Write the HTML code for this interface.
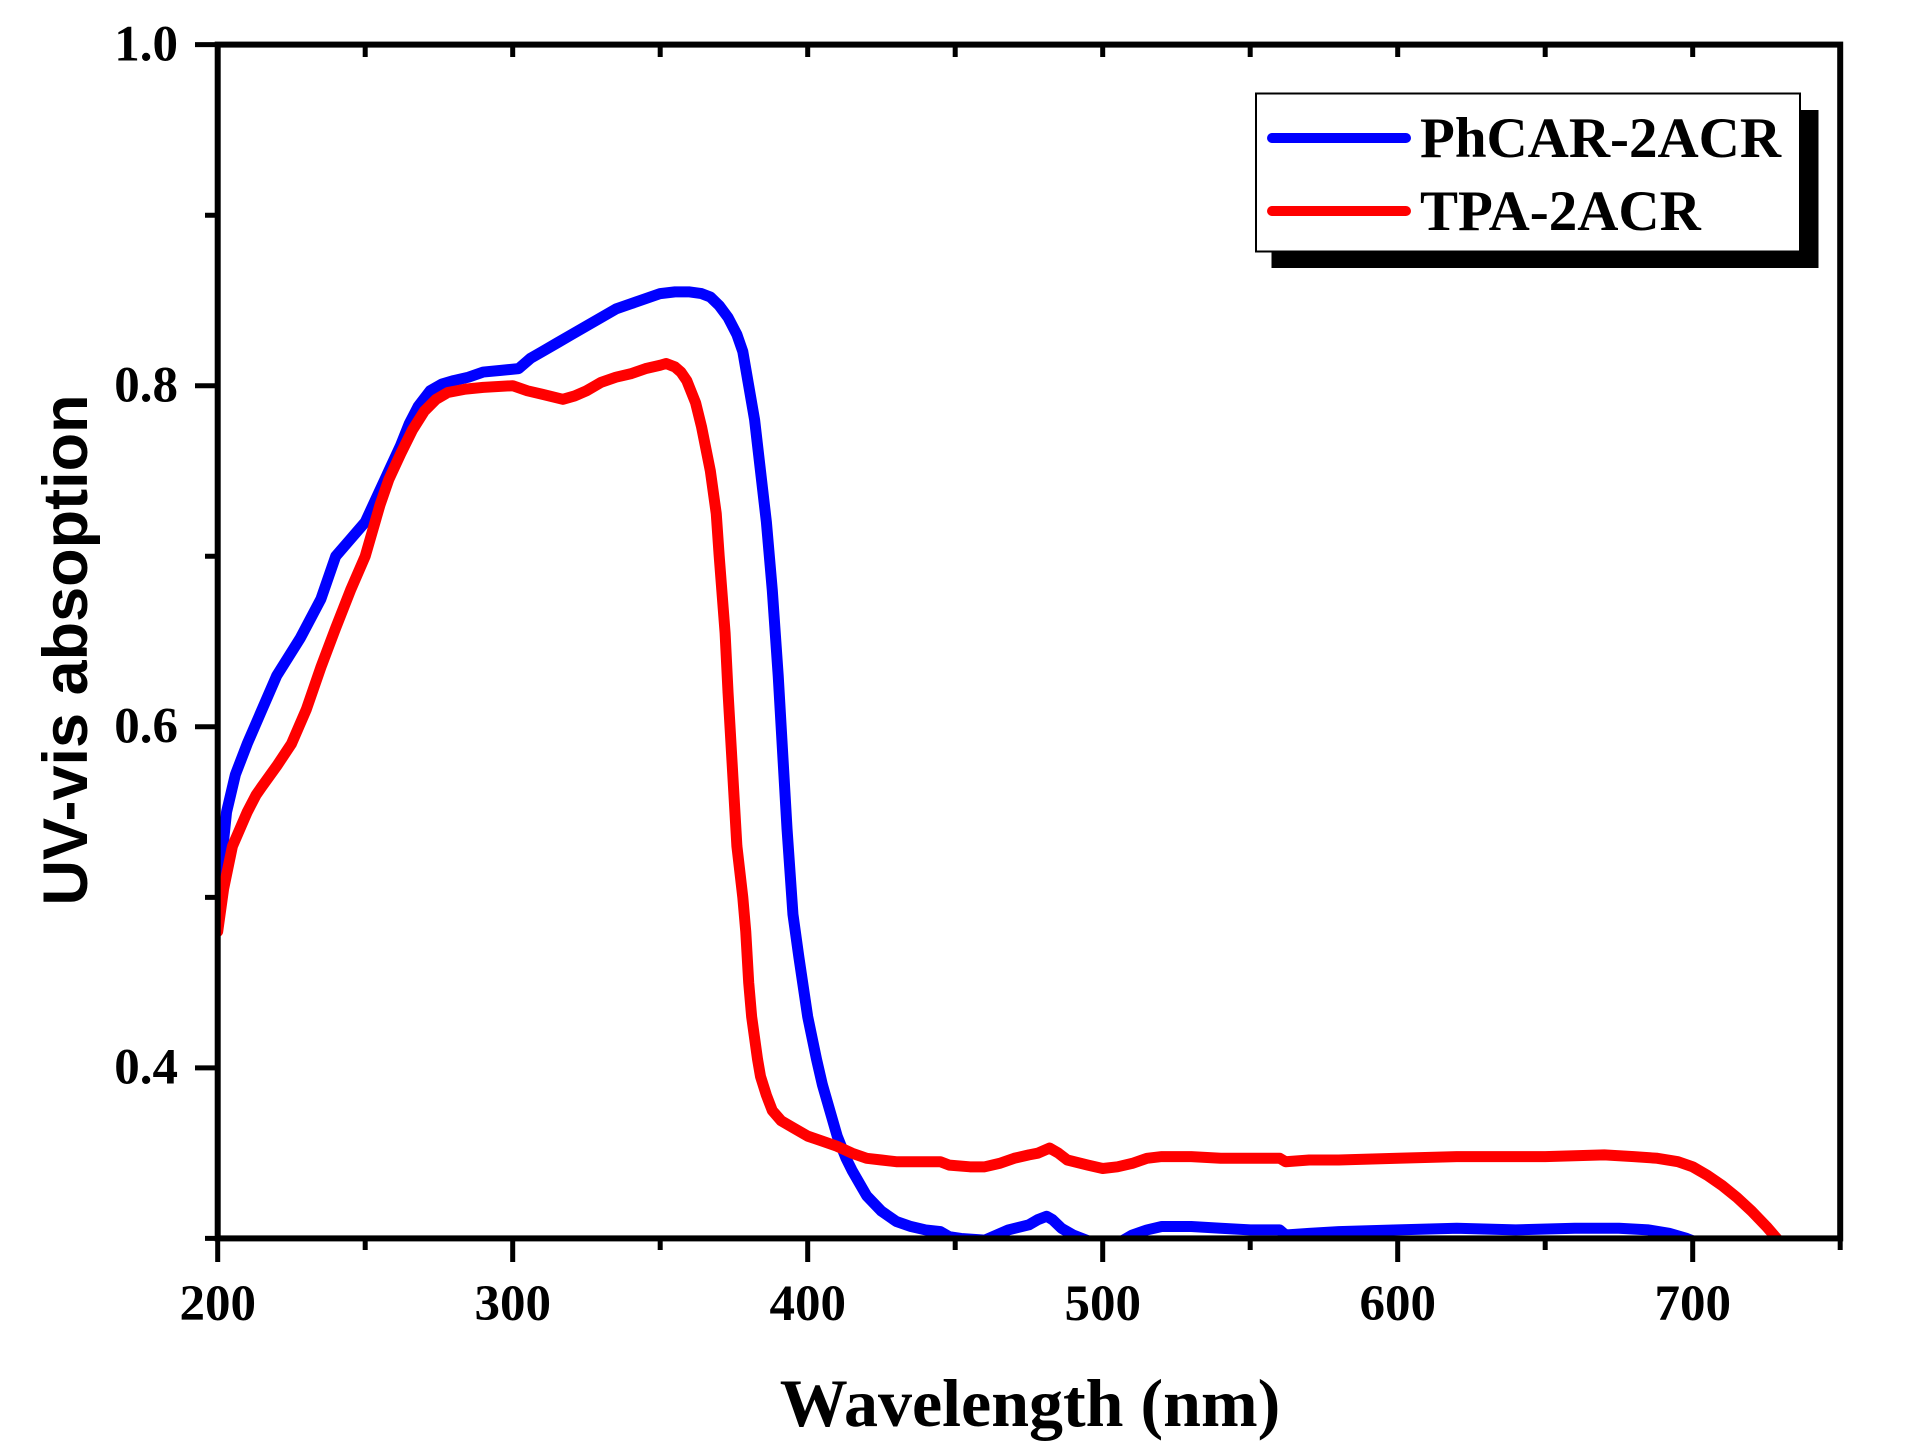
<!DOCTYPE html>
<html><head><meta charset="utf-8"><style>html,body{margin:0;padding:0;background:#fff}svg{display:block}</style></head>
<body>
<svg width="1906" height="1455" viewBox="0 0 1906 1455" xmlns="http://www.w3.org/2000/svg">
<defs><clipPath id="c"><rect x="217.7" y="44.6" width="1622.5" height="1193.8"/></clipPath></defs>
<g clip-path="url(#c)">
<g transform="matrix(2.95 0 0 -1705.5 -372.3 1750.1)" fill="none" stroke-linejoin="round" stroke-linecap="round">
<path vector-effect="non-scaling-stroke" stroke="#0000ff" stroke-width="11" d="M200,0.50 L203,0.55 L206,0.572 L210,0.59 L215,0.61 L220,0.63 L228,0.652 L235,0.675 L240,0.70 L245,0.71 L250,0.72 L254,0.735 L258,0.75 L262,0.765 L265,0.778 L268,0.788 L272,0.797 L276,0.801 L280,0.803 L285,0.805 L290,0.808 L296,0.809 L302,0.81 L306,0.816 L310,0.82 L315,0.825 L320,0.83 L325,0.835 L330,0.84 L335,0.845 L340,0.848 L345,0.851 L350,0.854 L355,0.855 L360,0.855 L364,0.854 L367,0.852 L370,0.847 L373,0.84 L376,0.83 L378,0.82 L380,0.80 L382,0.78 L384,0.75 L386,0.72 L388,0.68 L390,0.63 L392,0.57 L393,0.54 L395,0.49 L397,0.465 L400,0.43 L403,0.405 L405,0.39 L408,0.372 L410,0.36 L413,0.347 L415,0.34 L418,0.331 L420,0.325 L425,0.316 L430,0.31 L435,0.307 L440,0.305 L445,0.304 L448,0.301 L452,0.30 L460,0.299 L464,0.302 L468,0.305 L475,0.308 L478,0.311 L481,0.313 L483,0.311 L486,0.306 L490,0.302 L496,0.298 L500,0.295"/>
<path vector-effect="non-scaling-stroke" stroke="#0000ff" stroke-width="11" d="M502,0.295 L506,0.298 L510,0.302 L515,0.305 L520,0.307 L530,0.307 L540,0.306 L550,0.305 L560,0.305 L562,0.302 L570,0.303 L580,0.304 L600,0.305 L620,0.306 L640,0.305 L660,0.306 L675,0.306 L685,0.305 L692,0.303 L698,0.300 L704,0.296"/>
<path vector-effect="non-scaling-stroke" stroke="#ff0000" stroke-width="11" d="M200,0.48 L202,0.505 L205,0.53 L208,0.542 L210,0.55 L213,0.56 L215,0.565 L220,0.577 L225,0.59 L230,0.61 L235,0.635 L240,0.658 L245,0.68 L250,0.70 L253,0.718 L255,0.73 L258,0.745 L262,0.76 L266,0.774 L270,0.785 L274,0.792 L278,0.796 L284,0.798 L290,0.799 L300,0.80 L305,0.797 L310,0.795 L317,0.792 L321,0.794 L325,0.797 L330,0.802 L335,0.805 L340,0.807 L345,0.81 L350,0.812 L352,0.813 L355,0.811 L357,0.808 L359,0.803 L362,0.79 L364,0.776 L367,0.75 L369,0.725 L370,0.70 L372,0.655 L373,0.62 L375,0.56 L376,0.53 L378,0.50 L379,0.48 L380,0.45 L381,0.43 L383,0.405 L384,0.395 L386,0.384 L388,0.375 L391,0.369 L395,0.365 L400,0.36 L405,0.357 L410,0.354 L415,0.35 L420,0.347 L425,0.346 L430,0.345 L440,0.345 L445,0.345 L448,0.343 L455,0.342 L460,0.342 L465,0.344 L470,0.347 L475,0.349 L478,0.35 L482,0.353 L485,0.35 L488,0.346 L495,0.343 L500,0.341 L505,0.342 L510,0.344 L515,0.347 L520,0.348 L530,0.348 L540,0.347 L550,0.347 L560,0.347 L562,0.345 L570,0.346 L580,0.346 L600,0.347 L620,0.348 L650,0.348 L670,0.349 L680,0.348 L688,0.347 L695,0.345 L700,0.342 L705,0.337 L710,0.331 L715,0.324 L720,0.316 L725,0.307 L730,0.297"/>
</g></g>
<g stroke="#000" stroke-width="6" fill="none">
<rect x="217.7" y="44.6" width="1622.5" height="1193.8"/>
</g>
<g stroke="#000" stroke-width="5">
<path d="M217.7,1238V1262 M512.7,1238V1262 M807.7,1238V1262 M1102.7,1238V1262 M1397.7,1238V1262 M1692.7,1238V1262 M1840.2,1238V1250
M365.2,1238V1250 M660.2,1238V1250 M955.2,1238V1250 M1250.2,1238V1250 M1545.2,1238V1250"/>
<path d="M365.2,44.6V57 M512.7,44.6V57 M660.2,44.6V57 M807.7,44.6V57 M955.2,44.6V57 M1102.7,44.6V57 M1250.2,44.6V57 M1397.7,44.6V57 M1545.2,44.6V57 M1692.7,44.6V57"/>
<path d="M195,44.6H217 M195,385.7H217 M195,726.8H217 M195,1067.9H217 M205,215.2H217 M205,556.3H217 M205,897.4H217 M205,1238.4H217"/>
</g>
<g font-family="Liberation Serif, serif" font-weight="bold" font-size="51" fill="#000">
<g text-anchor="middle">
<text x="217.7" y="1320">200</text><text x="512.7" y="1320">300</text><text x="807.7" y="1320">400</text><text x="1102.7" y="1320">500</text><text x="1397.7" y="1320">600</text><text x="1692.7" y="1320">700</text>
</g>
<g text-anchor="end">
<text x="178" y="60.5">1.0</text><text x="178" y="401.5">0.8</text><text x="178" y="742.5">0.6</text><text x="178" y="1083.5">0.4</text>
</g>
<text x="1030" y="1426" text-anchor="middle" font-size="68">Wavelength (nm)</text>
</g>
<text transform="translate(87,650) rotate(-90)" text-anchor="middle" font-family="Liberation Sans, sans-serif" font-weight="bold" font-size="63">UV-vis absoption</text>
<rect x="1271.5" y="110" width="547" height="158" fill="#000"/>
<rect x="1256" y="93.5" width="544" height="158" fill="#fff" stroke="#000" stroke-width="2"/>
<line x1="1272" y1="138" x2="1406" y2="138" stroke="#0000ff" stroke-width="10" stroke-linecap="round"/>
<line x1="1272" y1="211" x2="1406" y2="211" stroke="#ff0000" stroke-width="10" stroke-linecap="round"/>
<g font-family="Liberation Serif, serif" font-weight="bold" font-size="57" fill="#000">
<text x="1420" y="157">PhCAR-2ACR</text>
<text x="1420" y="230">TPA-2ACR</text>
</g>
</svg>
</body></html>
